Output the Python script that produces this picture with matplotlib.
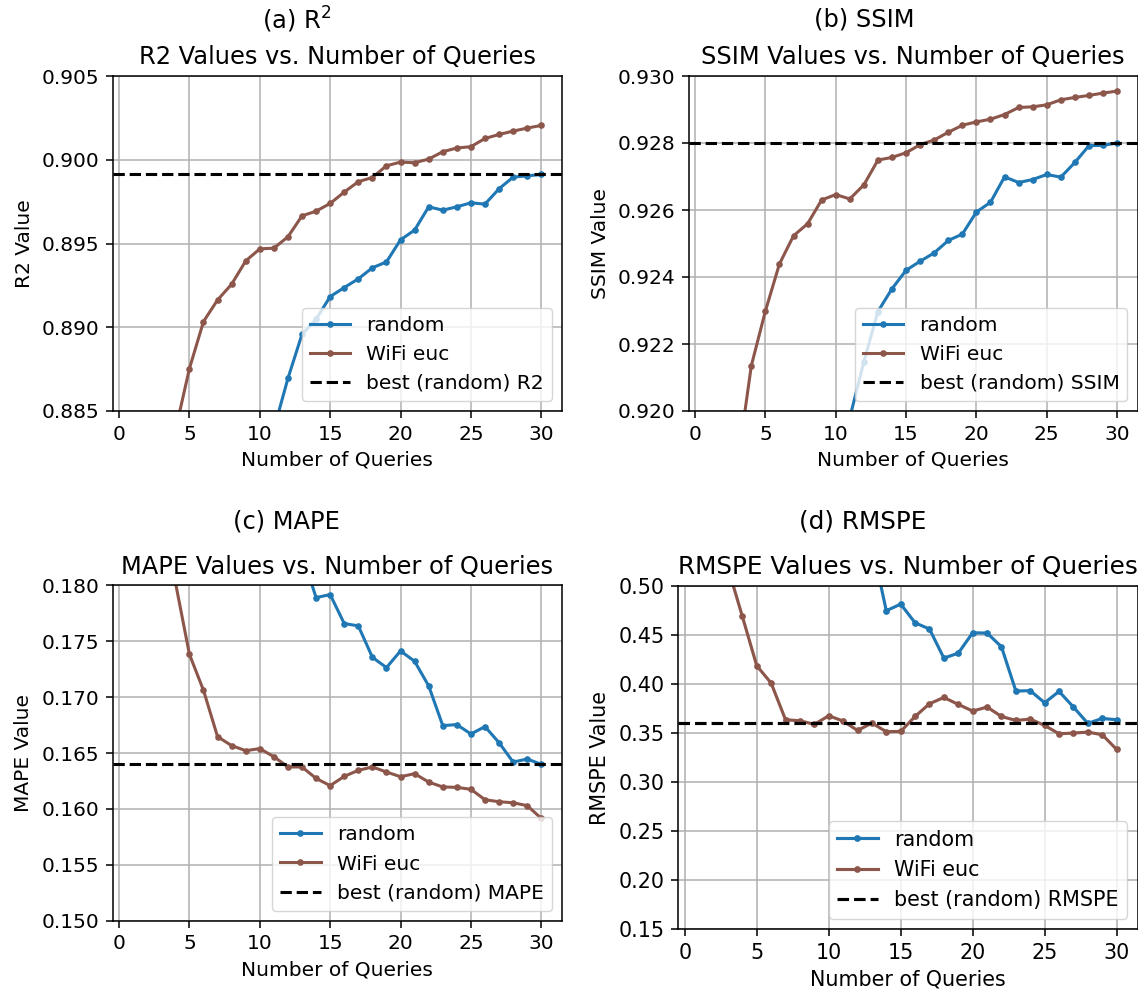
import matplotlib
matplotlib.use('Agg')
import matplotlib.pyplot as plt

# number of queries
queries = list(range(1, 31))

# values (points below/above the visible range are rough guesses)
r2_random = [0.835, 0.848, 0.857, 0.864, 0.869, 0.873, 0.876, 0.879, 0.881, 0.8825,
             0.8839, 0.88695, 0.88958, 0.89048, 0.89183, 0.89237, 0.89289, 0.89355, 0.8939, 0.89522,
             0.8958, 0.89719, 0.89699, 0.89719, 0.89743, 0.89735, 0.89827, 0.89896, 0.89904, 0.89912]
r2_wifi = [0.860, 0.872, 0.879, 0.8838, 0.88753, 0.89034, 0.89163, 0.89257, 0.89396, 0.89468,
           0.89472, 0.8954, 0.89665, 0.89693, 0.89739, 0.89807, 0.89869, 0.89894, 0.89964, 0.89986,
           0.89982, 0.90004, 0.90048, 0.9007, 0.90078, 0.90127, 0.90151, 0.90171, 0.90189, 0.90205]

ssim_random = [0.895, 0.900, 0.904, 0.907, 0.910, 0.912, 0.914, 0.916, 0.9175, 0.9187,
               0.9198, 0.92147, 0.92297, 0.92365, 0.9242, 0.92447, 0.92472, 0.92509, 0.92528, 0.92594,
               0.92623, 0.92699, 0.92682, 0.92691, 0.92706, 0.92698, 0.92742, 0.92792, 0.92793, 0.92800]
ssim_wifi = [0.905, 0.912, 0.91835, 0.92135, 0.92298, 0.92439, 0.92523, 0.92559, 0.9263, 0.92646,
             0.92633, 0.92675, 0.92749, 0.92757, 0.92771, 0.92795, 0.92809, 0.92832, 0.92853, 0.92863,
             0.92871, 0.92885, 0.92906, 0.92908, 0.92914, 0.92929, 0.92936, 0.92942, 0.92949, 0.92955]

mape_random = [0.235, 0.225, 0.215, 0.208, 0.202, 0.197, 0.193, 0.190, 0.188, 0.186,
               0.185, 0.184, 0.1828, 0.1789, 0.17917, 0.17658, 0.17637, 0.17356, 0.17264, 0.17413,
               0.1732, 0.171, 0.16745, 0.16754, 0.1667, 0.16736, 0.16592, 0.16419, 0.16446, 0.16399]
mape_wifi = [0.215, 0.200, 0.190, 0.1803, 0.17383, 0.17061, 0.16646, 0.16566, 0.16521, 0.16539,
             0.16467, 0.16375, 0.16375, 0.16273, 0.16208, 0.16291, 0.16345, 0.16375, 0.1633, 0.16288,
             0.16315, 0.1624, 0.16196, 0.16193, 0.16175, 0.16082, 0.16064, 0.16055, 0.16029, 0.15915]

rmspe_random = [0.75, 0.70, 0.66, 0.63, 0.61, 0.59, 0.575, 0.565, 0.557, 0.55,
                0.547, 0.545, 0.543, 0.475, 0.4818, 0.4627, 0.4563, 0.4266, 0.4317, 0.4525,
                0.4522, 0.4382, 0.393, 0.3933, 0.381, 0.3926, 0.3766, 0.3599, 0.365, 0.3636]
rmspe_wifi = [0.62, 0.57, 0.519, 0.4692, 0.4188, 0.4011, 0.3636, 0.3626, 0.3589, 0.3677,
              0.3623, 0.3527, 0.3602, 0.3514, 0.3517, 0.367, 0.38, 0.3864, 0.3793, 0.3725,
              0.3766, 0.367, 0.3629, 0.3643, 0.3578, 0.3493, 0.35, 0.351, 0.3483, 0.3333]

plt.rcParams['font.family'] = 'DejaVu Sans'
plt.rcParams['mathtext.default'] = 'regular'

W, H = 1138, 994
fig = plt.figure(figsize=(W / 100, H / 100), dpi=100)


def px_axes(left, top, right, bottom):
    return fig.add_axes([left / W, 1 - bottom / H, (right - left) / W, (bottom - top) / H])


panels = [
    # name, random, wifi, best, ylim, caption, caption pos, axes box (px), scale
    ('R2', r2_random, r2_wifi, max(r2_random), (0.885, 0.905), '(a) R$^2$', (297, 20),
     (112.7, 76, 561.7, 411), 1.0),
    ('SSIM', ssim_random, ssim_wifi, max(ssim_random), (0.920, 0.930), '(b) SSIM', (864, 20),
     (688.7, 76, 1137.5, 411), 1.0),
    ('MAPE', mape_random, mape_wifi, min(mape_random), (0.150, 0.180), '(c) MAPE', (286, 522),
     (112.7, 585.3, 561.7, 920.7), 1.0),
    ('RMSPE', rmspe_random, rmspe_wifi, min(rmspe_random), (0.15, 0.50), '(d) RMSPE', (863, 522),
     (678.3, 586.3, 1137.5, 928.8), 1.022),
]

for name, rnd, wifi, best, ylim, caption, cpos, box, s in panels:
    ax = px_axes(*box)
    fs = 14.5 * s
    ax.plot(queries, rnd, marker='.', markersize=7.5 * s, linewidth=2.2 * s,
            color='#1f77b4', label='random')
    ax.plot(queries, wifi, marker='.', markersize=7.5 * s, linewidth=2.2 * s,
            color='#8c564b', label='WiFi euc')
    ax.axhline(best, color='black', linestyle='--', linewidth=2.2 * s,
               label='best (random) ' + name)
    ax.set_ylim(*ylim)
    ax.set_xticks([0, 5, 10, 15, 20, 25, 30])
    ax.grid(True, color='#b0b0b0', linewidth=1.1 * s)
    ax.tick_params(labelsize=fs, length=4.9 * s, width=1.1 * s, pad=4.9 * s)
    for sp in ax.spines.values():
        sp.set_linewidth(1.1 * s)
    ax.set_xlabel('Number of Queries', fontsize=fs, labelpad=4.9 * s)
    ax.set_ylabel(name + ' Value', fontsize=fs, labelpad=5.6 * s)
    ax.set_title(name + ' Values vs. Number of Queries', fontsize=17.4 * s, pad=8.4 * s)
    ax.legend(loc='lower right', fontsize=fs, borderaxespad=0.5)
    fig.text(cpos[0] / W, 1 - cpos[1] / H, caption, fontsize=17.4 * s,
             ha='center', va='center')

fig.savefig('out.png', dpi=100)
